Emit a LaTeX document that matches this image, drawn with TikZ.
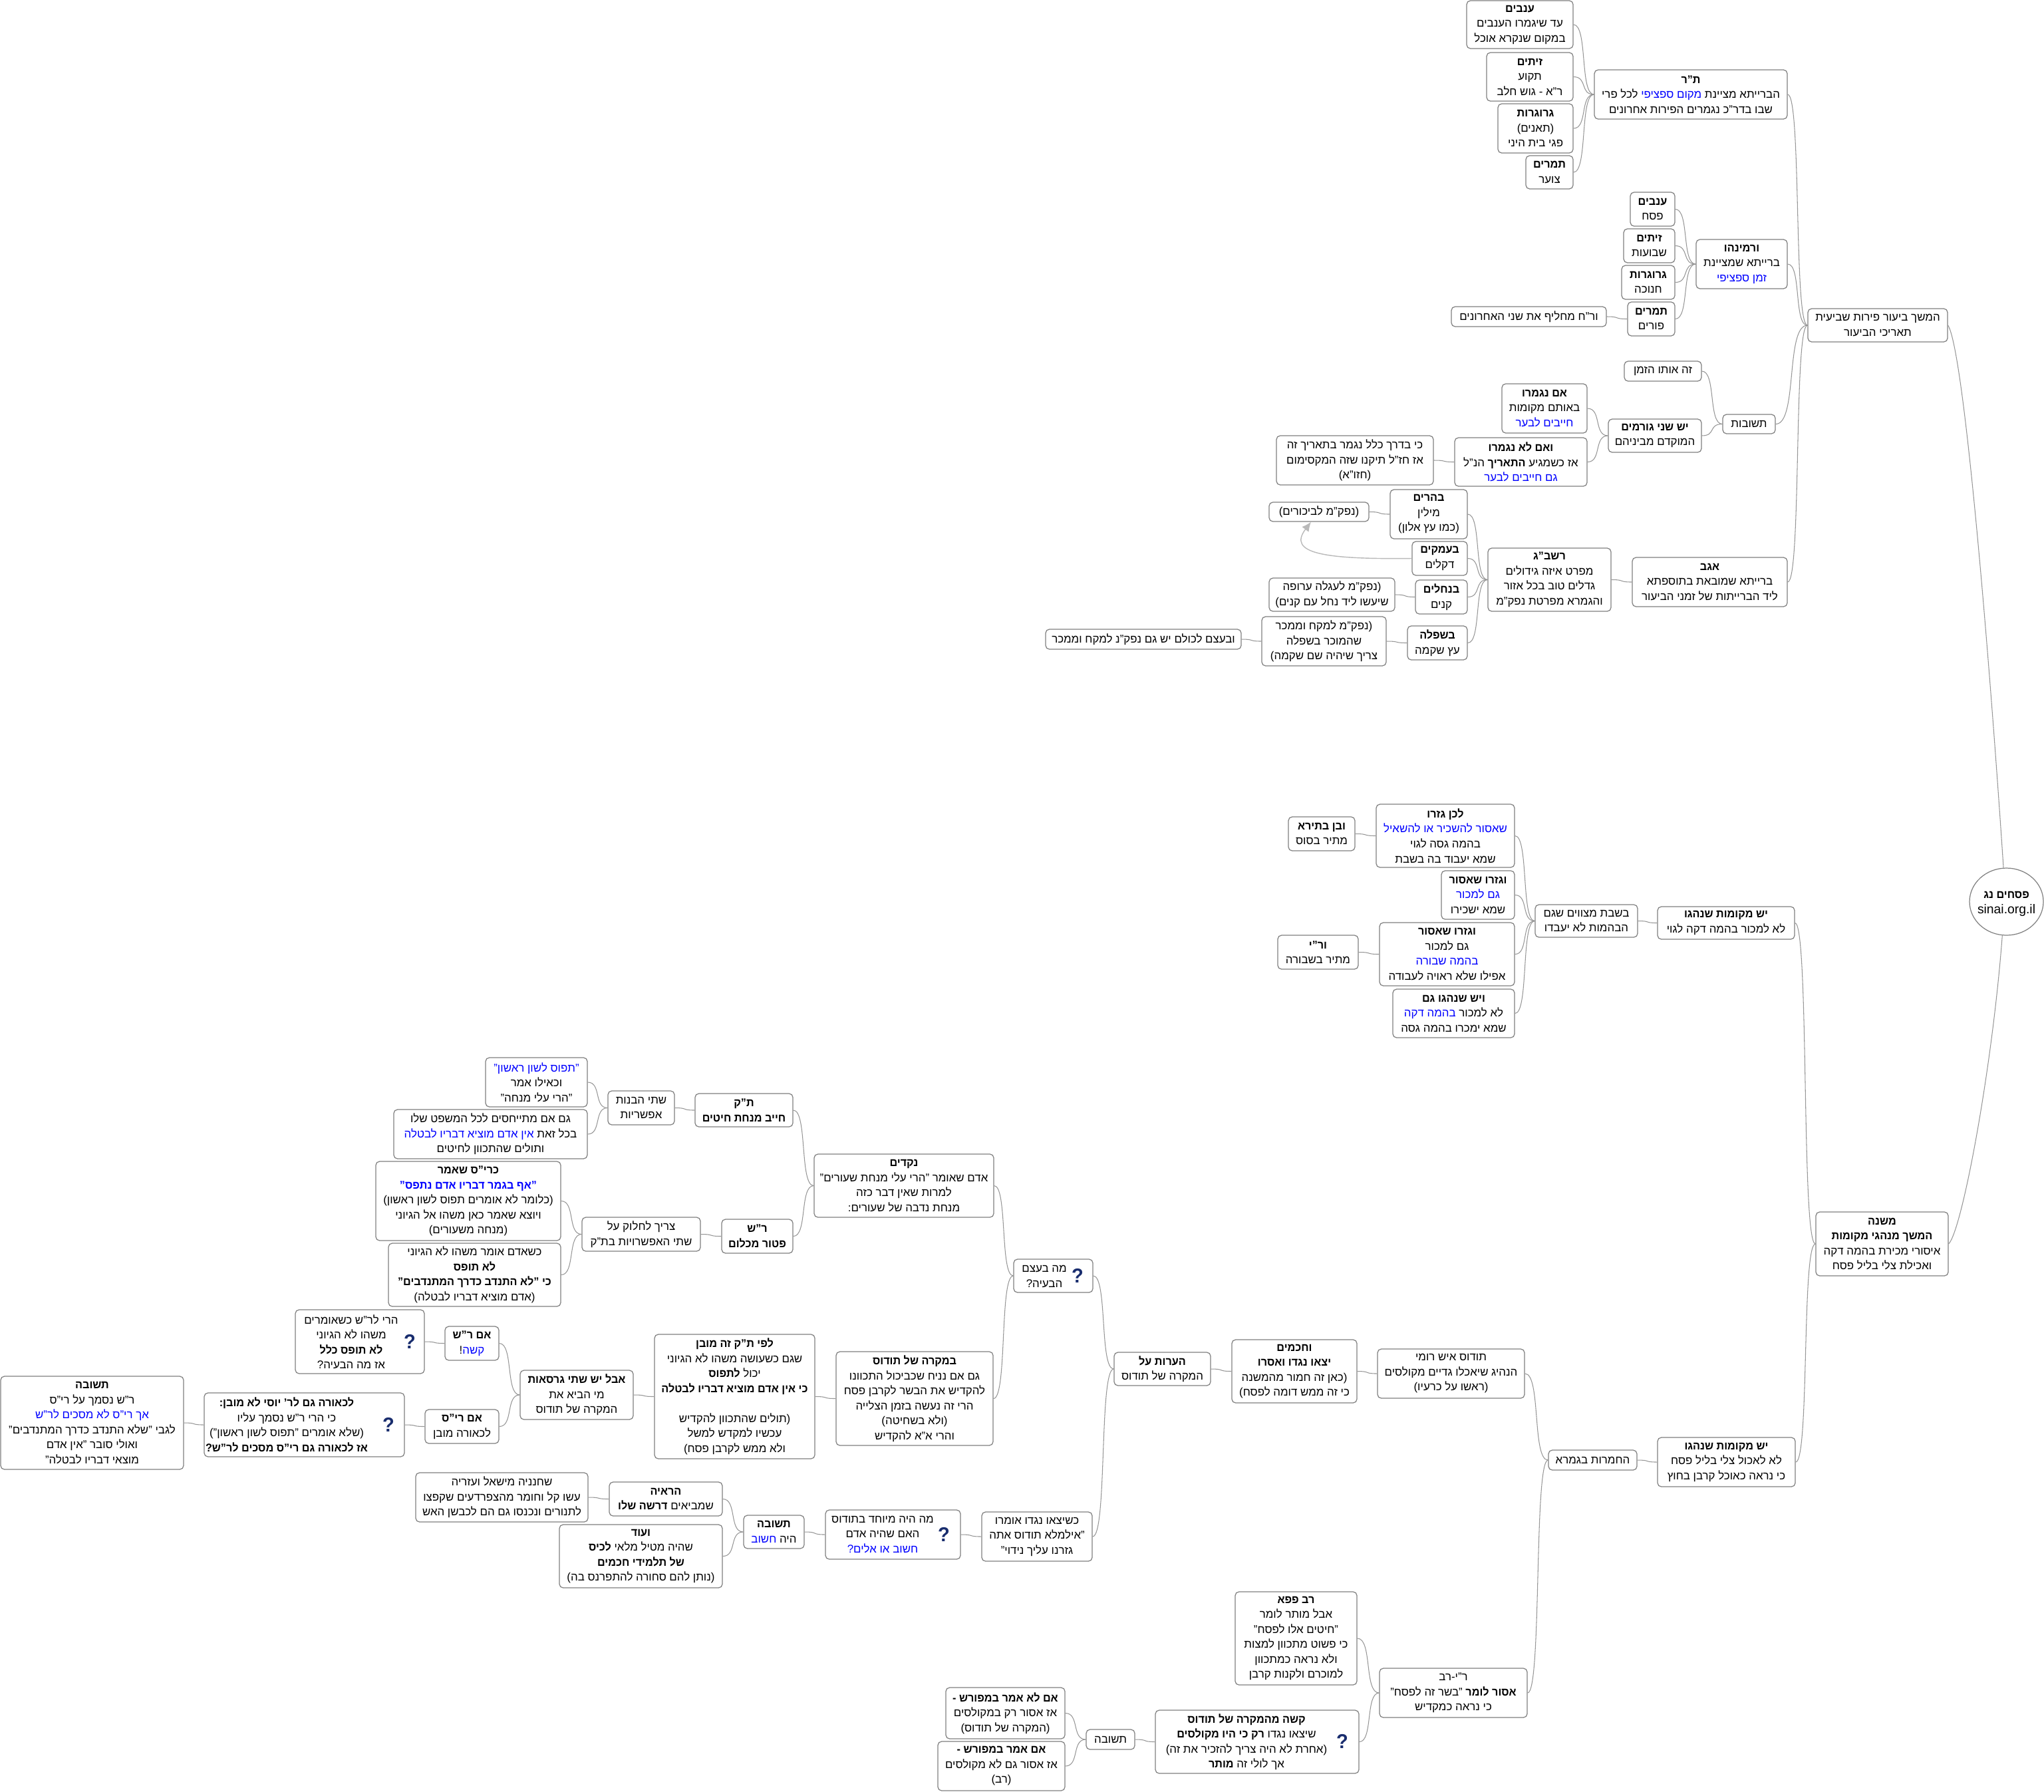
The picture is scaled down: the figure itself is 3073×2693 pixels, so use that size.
\documentclass[tikz,border=0pt]{standalone}
\usepackage{fontspec}
\setmainfont[Script=Hebrew,BoldFeatures={FakeStretch=0.96}]{Liberation Sans}
\TeXXeTstate=1
\usetikzlibrary{calc,shapes.geometric,arrows.meta}
\definecolor{boxline}{RGB}{128,128,128}
\definecolor{linkline}{RGB}{150,150,150}
\definecolor{qmblue}{RGB}{25,45,110}
\newcommand\rl[1]{\beginR #1\endR}
\newcommand\blu[1]{\textcolor{blue}{\rl{#1}}}
\newcommand\linkbox[2]{\draw[lnk] let \p1=(#1.east),\p2=(#2.west),\n1={0.7*(\x2-\x1)} in (\p1) .. controls +(\n1,0) and ($(\p2)-(\n1,0)$) .. (\p2);}
\tikzset{
  tx/.style={inner sep=0pt,align=center,font=\fontsize{4.8}{6.4}\selectfont},
  bx/.style 2 args={tx,draw=boxline,line width=0.35pt,rounded corners=1.6pt,fill=white,minimum width=#1*0.01cm,minimum height=#2*0.01cm},
  qm/.style={inner sep=0pt,text=qmblue,font=\fontsize{8.6}{8.6}\selectfont\bfseries},
  lnk/.style={draw=linkline,line width=0.3pt},
}
\begin{document}
\begin{tikzpicture}[x=0.01cm,y=-0.01cm]
\useasboundingbox (0,0) rectangle (3073,2693);
\node[bx={160}{72}] (anavimA) at (2285,37) {\rl{\textbf{ענבים}}\\\rl{עד שיגמרו הענבים}\\\rl{במקום שנקרא אוכל}};
\node[bx={130}{73}] (zeitimA) at (2300,115.5) {\rl{\textbf{זיתים}}\\\rl{תקוע}\\\rl{ר"א - גוש חלב}};
\node[bx={113}{74}] (grogA) at (2308.5,193) {\rl{\textbf{גרוגרות}}\\\rl{(תאנים)}\\\rl{פגי בית היני}};
\node[bx={71}{50}] (tmarimA) at (2329.5,259) {\rl{\textbf{תמרים}}\\\rl{צוער}};
\node[bx={290}{74}] (tanur) at (2542,142) {\rl{\textbf{ת"ר}}\\\rl{לכל פרי} \blu{מקום ספציפי} \rl{הברייתא מציינת}\\\rl{שבו בדר"כ נגמרים הפירות אחרונים}};
\node[bx={67}{51}] (anavimB) at (2484.5,314.5) {\rl{\textbf{ענבים}}\\\rl{פסח}};
\node[bx={77}{51}] (zeitimB) at (2479.5,369.5) {\rl{\textbf{זיתים}}\\\rl{שבועות}};
\node[bx={80}{51}] (grogB) at (2478,424.5) {\rl{\textbf{גרוגרות}}\\\rl{חנוכה}};
\node[bx={71}{51}] (tmarimB) at (2482.5,479.5) {\rl{\textbf{תמרים}}\\\rl{פורים}};
\node[bx={233}{30}] (richA) at (2298.5,476) {\rl{ור"ח מחליף את שני האחרונים}};
\node[bx={137}{74}] (veramina) at (2618.5,397) {\rl{\textbf{ורמינהו}}\\\rl{ברייתא שמציינת}\\\blu{זמן ספציפי}};
\node[bx={210}{50}] (hemshech) at (2823,489) {\rl{המשך ביעור פירות שביעית}\\\rl{תאריכי הביעור}};
\node[bx={79}{29}] (tshuvot) at (2629.5,637.5) {\rl{תשובות}};
\node[bx={116}{30}] (otozman) at (2500,558) {\rl{זה אותו הזמן}};
\node[bx={140}{50}] (gormim) at (2488,655) {\rl{\textbf{יש שני גורמים}}\\\rl{המוקדם מביניהם}};
\node[bx={128}{74}] (nigmeru) at (2322,614) {\rl{\textbf{אם נגמרו}}\\\rl{באותם מקומות}\\\blu{חייבים לבער}};
\node[bx={199}{73}] (lonigmeru) at (2286.5,694.5) {\rl{\textbf{ואם לא נגמרו}}\\\rl{אז כשמגיע \textbf{התאריך} הנ"ל}\\\blu{גם חייבים לבער}};
\node[bx={236}{74}] (bederech) at (2037,692) {\rl{כי בדרך כלל נגמר בתאריך זה}\\\rl{אז חז"ל תיקנו שזה המקסימום}\\\rl{(חזו"א)}};
\node[bx={116}{74}] (harim) at (2148,773) {\rl{\textbf{בהרים}}\\\rl{מילין}\\\rl{(כמו עץ אלון)}};
\node[bx={150}{29}] (bikurim) at (1983,769.5) {\rl{(נפק"מ לביכורים)}};
\node[bx={83}{51}] (amakim) at (2164.5,839.5) {\rl{\textbf{בעמקים}}\\\rl{דקלים}};
\node[bx={78}{51}] (nechalim) at (2167,897.5) {\rl{\textbf{בנחלים}}\\\rl{קנים}};
\node[bx={189}{50}] (egla) at (2002.5,894) {\rl{(נפק"מ לעגלה ערופה}\\\rl{שיעשו ליד נחל עם קנים)}};
\node[bx={90}{51}] (shfela) at (2161,966.5) {\rl{\textbf{בשפלה}}\\\rl{עץ שקמה}};
\node[bx={187}{74}] (mekach) at (1990.5,964) {\rl{(נפק"מ למקח וממכר}\\\rl{שהמוכר בשפלה}\\\rl{צריך שיהיה שם שקמה)}};
\node[bx={294}{30}] (uveetzem) at (1719,961) {\rl{ובעצם לכולם יש גם נפק"נ למקח וממכר}};
\node[bx={185}{95}] (rashbag) at (2329.5,871.5) {\rl{\textbf{רשב"ג}}\\\rl{מפרט איזה גידולים}\\\rl{גדלים טוב בכל אזור}\\\rl{והגמרא מפרטת נפק"מ}};
\node[bx={233}{74}] (agav) at (2570.5,875) {\rl{\textbf{אגב}}\\\rl{ברייתא שמובאת בתוספתא}\\\rl{ליד הברייתות של זמני הביעור}};
\node[bx={208}{95}] (lachen) at (2173,1256.5) {\rl{\textbf{לכן גזרו}}\\\blu{שאסור להשכיר או להשאיל}\\\rl{בהמה גסה לגוי}\\\rl{שמא יעבוד בה בשבת}};
\node[bx={100}{51}] (beteira) at (1987,1253.5) {\rl{\textbf{ובן בתירא}}\\\rl{מתיר בסוס}};
\node[bx={110}{73}] (gazruA) at (2222,1345.5) {\rl{\textbf{וגזרו שאסור}}\\\blu{גם למכור}\\\rl{שמא ישכירו}};
\node[bx={203}{95}] (gazruB) at (2175.5,1434.5) {\rl{\textbf{וגזרו שאסור}}\\\rl{גם למכור}\\\blu{בהמה שבורה}\\\rl{אפילו שלא ראויה לעבודה}};
\node[bx={121}{51}] (rabiY) at (1981.5,1431.5) {\rl{\textbf{ור"י}}\\\rl{מתיר בשבורה}};
\node[bx={183}{73}] (nahagu) at (2185.5,1523.5) {\rl{\textbf{ויש שנהגו גם}}\\\blu{בהמה דקה} \rl{לא למכור}\\\rl{שמא ימכרו בהמה גסה}};
\node[bx={154}{49}] (beshabat) at (2385,1384.5) {\rl{בשבת מצווים שגם}\\\rl{הבהמות לא יעבדו}};
\node[bx={206}{49}] (mekomotA) at (2595,1387.5) {\rl{\textbf{יש מקומות שנהגו}}\\\rl{לא למכור בהמה דקה לגוי}};
\node[tx,draw=boxline,line width=0.35pt,ellipse,minimum width=111*0.01cm,minimum height=101*0.01cm] (root) at (3016.5,1355.5) {};
\node[tx] (rootT) at (3016.5,1359) {\rl{\textbf{פסחים נג}}\\{\fontsize{5.5}{6.4}\selectfont sinai.org.il}};
\node[bx={199}{96}] (mishna) at (2829.5,1870) {\rl{\textbf{משנה}}\\\rl{\textbf{המשך מנהגי מקומות}}\\\rl{איסורי מכירת בהמה דקה}\\\rl{ואכילת צלי בליל פסח}};
\node[bx={207}{74}] (mekomotB) at (2595.5,2198) {\rl{\textbf{יש מקומות שנהגו}}\\\rl{לא לאכול צלי בליל פסח}\\\rl{כי נראה כאוכל קרבן בחוץ}};
\node[bx={133}{30}] (chumrot) at (2394.5,2195) {\rl{החמרות בגמרא}};
\node[bx={221}{74}] (teodos) at (2181.5,2065) {\rl{תודוס איש רומי}\\\rl{הנהיג שיאכלו גדיים מקולסים}\\\rl{(ראשו על כרעיו)}};
\node[bx={188}{95}] (chachamim) at (1946,2061.5) {\rl{\textbf{וחכמים}}\\\rl{\textbf{יצאו נגדו ואסרו}}\\\rl{(כאן זה חמור מהמשנה}\\\rl{כי זה ממש דומה לפסח)}};
\node[bx={145}{50}] (heorot) at (1747.5,2058) {\rl{\textbf{הערות על}}\\\rl{המקרה של תודוס}};
\node[bx={119}{50}] (baaya) at (1583.5,1918) {};
\node[tx] (baayaT) at (1570,1919) {\rl{מה בעצם}\\\rl{הבעיה?}};
\node[qm] (baayaQ) at (1620,1918) {?};
\node[bx={270}{95}] (nekadim) at (1359,1782.5) {\rl{\textbf{נקדים}}\\\rl{אדם שאומר "הרי עלי מנחת שעורים"}\\\rl{למרות שאין דבר כזה}\\\rl{מנחת נדבה של שעורים:}};
\node[bx={147}{50}] (tanakamma) at (1118.5,1669) {\rl{\textbf{ת"ק}}\\\rl{\textbf{חייב מנחת חיטים}}};
\node[bx={107}{51}] (rshimon) at (1138.5,1858.5) {\rl{\textbf{ר"ש}}\\\rl{\textbf{פטור מכלום}}};
\node[bx={100}{51}] (havanot) at (964,1665.5) {\rl{שתי הבנות}\\\rl{אפשריות}};
\node[bx={153}{74}] (tfos) at (806.5,1627) {\blu{"תפוס לשון ראשון"}\\\rl{וכאילו אמר}\\\rl{"הרי עלי מנחה"}};
\node[bx={291}{74}] (lebatala) at (737.5,1705) {\rl{גם אם מתייחסים לכל המשפט שלו}\\\blu{אין אדם מוציא דבריו לבטלה} \rl{בכל זאת}\\\rl{ותולים שהתכוון לחיטים}};
\node[bx={178}{51}] (lachalok) at (964,1855.5) {\rl{צריך לחלוק על}\\\rl{שתי האפשרויות בת"ק}};
\node[bx={278}{119}] (kris) at (704,1805.5) {\rl{\textbf{כרי"ס  שאמר}}\\\textbf{\blu{"אף בגמר דבריו אדם נתפס"}}\\\rl{(כלומר לא אומרים תפוס לשון ראשון)}\\\rl{ויוצא שאמר כאן משהו אל הגיוני}\\\rl{(מנחה משעורים)}};
\node[bx={259}{95}] (mitnadvim) at (713.5,1916.5) {\rl{כשאדם אומר משהו לא הגיוני}\\\rl{\textbf{לא תופס}}\\\rl{\textbf{כי "לא התנדב כדרך המתנדבים"}}\\\rl{(אדם מוציא דבריו לבטלה)}};
\node[bx={236}{141}] (bemikre) at (1375,2102.5) {\rl{\textbf{במקרה של תודוס}}\\\rl{גם אם נניח שכביכול התכוונו}\\\rl{להקדיש את הבשר לקרבן פסח}\\\rl{הרי זה נעשה בזמן הצלייה}\\\rl{(ולא בשחיטה)}\\\rl{והרי א"א להקדיש}};
\node[bx={241}{187}] (lefi) at (1104.5,2099.5) {\rl{\textbf{לפי ת"ק זה מובן}}\\\rl{שגם כשעושה משהו לא הגיוני}\\\rl{יכול \textbf{לתפוס}}\\\rl{\textbf{כי אין אדם מוציא דבריו לבטלה}}\\\mbox{}\\\rl{(תולים שהתכוון להקדיש}\\\rl{עכשיו למקדש למשל}\\\rl{ולא ממש לקרבן פסח)}};
\node[bx={170}{74}] (girsaot) at (867,2097) {\rl{\textbf{אבל יש שתי גרסאות}}\\\rl{מי הביא את}\\\rl{המקרה של תודוס}};
\node[bx={81}{51}] (imrash) at (709.5,2019.5) {\rl{\textbf{אם ר"ש}}\\\rl{!}\blu{קשה}};
\node[bx={194}{96}] (harei) at (541,2017) {};
\node[tx] (hareiT) at (528,2017) {\rl{הרי לר"ש כשאומרים}\\\rl{משהו לא הגיוני}\\\rl{\textbf{לא תופס כלל}}\\\rl{אז מה הבעיה?}};
\node[qm] (hareiQ) at (616,2017) {?};
\node[bx={111}{51}] (imris) at (694.5,2144.5) {\rl{\textbf{אם רי"ס}}\\\rl{לכאורה מובן}};
\node[bx={301}{96}] (lichora) at (457.5,2142) {};
\node[tx] (lichoraT) at (431,2142) {\rl{\textbf{לכאורה גם לר' יוסי לא מובן:}}\\\rl{כי הרי ר"ש נסמך עליו}\\\rl{(שלא אומרים "תפוס לשון ראשון")}\\\rl{\textbf{אז לכאורה גם רי"ס מסכים לר"ש?}}};
\node[qm] (lichoraQ) at (584,2142) {?};
\node[bx={275}{140}] (tshuvaA) at (138.5,2139) {\rl{\textbf{תשובה}}\\\rl{ר"ש נסמך על רי"ס}\\\blu{אך רי"ס לא מסכים לר"ש}\\\rl{לגבי "שלא התנדב כדרך המתנדבים"}\\\rl{ואולי סובר "אין אדם}\\\rl{מוצאי דבריו לבטלה"}};
\node[bx={166}{74}] (yatzu) at (1559,2310) {\rl{כשיצאו נגדו אומרו}\\\rl{"אילמלא תודוס אתה}\\\rl{גזרנו עליך נידוי"}};
\node[bx={203}{74}] (meyuchad) at (1342.5,2307) {};
\node[tx] (meyuchadT) at (1327,2307) {\rl{מה היה מיוחד בתודוס}\\\rl{האם שהיה אדם}\\\blu{חשוב או אלים?}};
\node[qm] (meyuchadQ) at (1419,2307) {?};
\node[bx={91}{50}] (tshuvaB) at (1163.5,2303) {\rl{\textbf{תשובה}}\\\blu{חשוב} \rl{היה}};
\node[bx={170}{51}] (reaya) at (1001,2253.5) {\rl{\textbf{הראיה}}\\\rl{שמביאים \textbf{דרשה שלו}}};
\node[bx={259}{74}] (chanania) at (754.5,2251) {\rl{שחנניה מישאל ועזריה}\\\rl{עשו קל וחומר מהצפרדעים שקפצו}\\\rl{לתנורים ונכנסו גם הם לכבשן האש}};
\node[bx={245}{95}] (veod) at (963.5,2339.5) {\rl{\textbf{ועוד}}\\\rl{שהיה מטיל מלאי \textbf{לכיס}}\\\rl{\textbf{של תלמידי חכמים}}\\\rl{(נותן להם סחורה להתפרנס בה)}};
\node[bx={183}{140}] (pappa) at (1948.5,2463) {\rl{\textbf{רב פפא}}\\\rl{אבל מותר לומר}\\\rl{"חיטים אלו לפסח"}\\\rl{כי פשוט מתכוון למצות}\\\rl{ולא נראה כמתכוון}\\\rl{למוכרם ולקנות קרבן}};
\node[bx={222}{74}] (rirav) at (2185,2545) {\rl{ר"י-רב}\\\rl{\textbf{אסור לומר}  "בשר זה לפסח"}\\\rl{כי נראה כמקדיש}};
\node[bx={306}{95}] (kashe) at (1890,2618.5) {};
\node[tx] (kasheT) at (1874,2618.5) {\rl{\textbf{קשה מהמקרה של תודוס}}\\\rl{שיצאו נגדו \textbf{רק כי היו מקולסים}}\\\rl{(אחרת לא היה צריך להזכיר את זה)}\\\rl{אך לולי זה  \textbf{מותר}}};
\node[qm] (kasheQ) at (2018,2618) {?};
\node[bx={73}{30}] (tshuvaC) at (1669.5,2615) {\rl{תשובה}};
\node[bx={179}{77}] (imlo) at (1511.5,2575.5) {\rl{\textbf{אם לא אמר במפורש -}}\\\rl{אז אסור רק במקולסים}\\\rl{(המקרה של תודוס)}};
\node[bx={191}{74}] (imamar) at (1505.5,2655) {\rl{\textbf{אם אמר במפורש -}}\\\rl{אז אסור גם לא מקולסים}\\\rl{(רב)}};
\linkbox{anavimA}{tanur}
\linkbox{zeitimA}{tanur}
\linkbox{grogA}{tanur}
\linkbox{tmarimA}{tanur}
\linkbox{anavimB}{veramina}
\linkbox{zeitimB}{veramina}
\linkbox{grogB}{veramina}
\linkbox{tmarimB}{veramina}
\linkbox{richA}{tmarimB}
\linkbox{tanur}{hemshech}
\linkbox{veramina}{hemshech}
\linkbox{tshuvot}{hemshech}
\linkbox{agav}{hemshech}
\linkbox{otozman}{tshuvot}
\linkbox{gormim}{tshuvot}
\linkbox{nigmeru}{gormim}
\linkbox{lonigmeru}{gormim}
\linkbox{bederech}{lonigmeru}
\linkbox{rashbag}{agav}
\linkbox{harim}{rashbag}
\linkbox{amakim}{rashbag}
\linkbox{nechalim}{rashbag}
\linkbox{shfela}{rashbag}
\linkbox{bikurim}{harim}
\linkbox{egla}{nechalim}
\linkbox{mekach}{shfela}
\linkbox{uveetzem}{mekach}
\linkbox{lachen}{beshabat}
\linkbox{gazruA}{beshabat}
\linkbox{gazruB}{beshabat}
\linkbox{nahagu}{beshabat}
\linkbox{beteira}{lachen}
\linkbox{rabiY}{gazruB}
\linkbox{beshabat}{mekomotA}
\linkbox{mekomotA}{mishna}
\linkbox{mekomotB}{mishna}
\linkbox{chumrot}{mekomotB}
\linkbox{teodos}{chumrot}
\linkbox{rirav}{chumrot}
\linkbox{chachamim}{teodos}
\linkbox{heorot}{chachamim}
\linkbox{baaya}{heorot}
\linkbox{yatzu}{heorot}
\linkbox{nekadim}{baaya}
\linkbox{bemikre}{baaya}
\linkbox{tanakamma}{nekadim}
\linkbox{rshimon}{nekadim}
\linkbox{havanot}{tanakamma}
\linkbox{tfos}{havanot}
\linkbox{lebatala}{havanot}
\linkbox{lachalok}{rshimon}
\linkbox{kris}{lachalok}
\linkbox{mitnadvim}{lachalok}
\linkbox{lefi}{bemikre}
\linkbox{girsaot}{lefi}
\linkbox{imrash}{girsaot}
\linkbox{imris}{girsaot}
\linkbox{harei}{imrash}
\linkbox{lichora}{imris}
\linkbox{tshuvaA}{lichora}
\linkbox{meyuchad}{yatzu}
\linkbox{tshuvaB}{meyuchad}
\linkbox{reaya}{tshuvaB}
\linkbox{veod}{tshuvaB}
\linkbox{chanania}{reaya}
\linkbox{pappa}{rirav}
\linkbox{kashe}{rirav}
\linkbox{tshuvaC}{kashe}
\linkbox{imlo}{tshuvaC}
\linkbox{imamar}{tshuvaC}
\draw[lnk] (hemshech.east) .. controls +(25,40) and +(-20,-300) .. (root.95);
\draw[lnk] (mishna.east) .. controls +(20,-20) and +(-15,200) .. (root.-97);
\draw[draw=gray!55,line width=0.4pt,-{Latex[length=4pt,width=3.6pt,fill=gray!55]}] (amakim.west) .. controls (1990,841) and (1935,832) .. ($(bikurim.south)+(-12,0)$);
\end{tikzpicture}
\end{document}
